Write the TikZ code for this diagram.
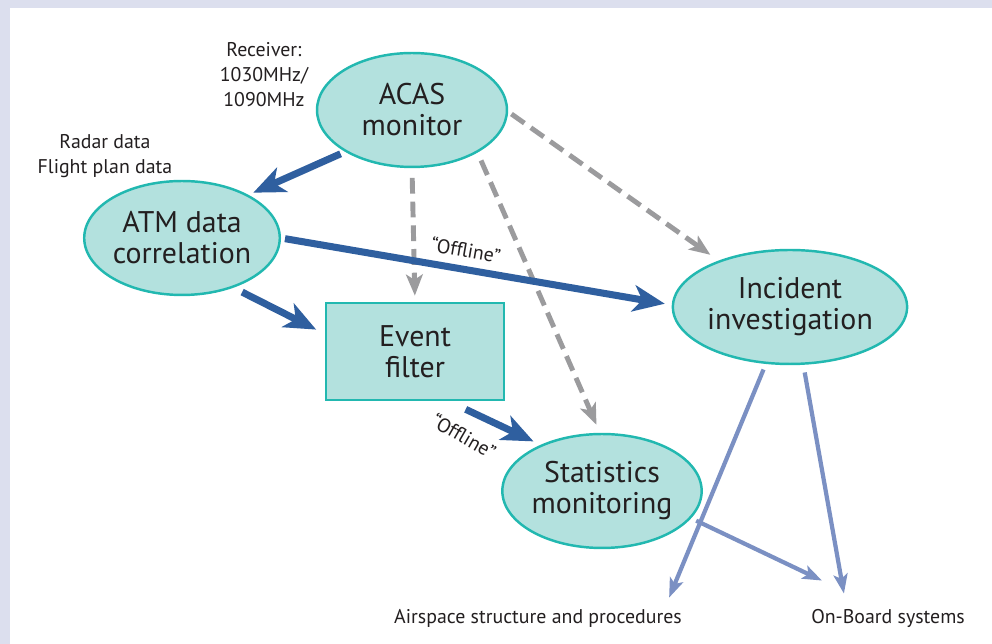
\documentclass[tikz,border=0pt]{standalone}
\usepackage{fontspec}
\setmainfont{PT Sans}
\usepackage{xcolor}
\usetikzlibrary{positioning,shapes.geometric,arrows.meta}
\definecolor{bandgray}{HTML}{DCDFEE}
\definecolor{nodefill}{HTML}{B3E1DE}
\definecolor{nodeline}{HTML}{22B8B0}
\definecolor{darkblue}{HTML}{2F5F9F}
\definecolor{paleblue}{HTML}{7B90C3}
\definecolor{dashgray}{HTML}{9B9B9D}
\definecolor{textdark}{HTML}{231F20}

\begin{document}
\begin{tikzpicture}[x=0.02cm, y=-0.02cm,
		bignode/.style={ellipse, draw=nodeline, fill=nodefill, line width=1.4pt, minimum width=3.8cm, minimum height=2.28cm, inner sep=0pt, align=center, text=textdark, font=\fontsize{17}{17.6}\selectfont},
		filterbox/.style={rectangle, draw=nodeline, fill=nodefill, line width=1.4pt, minimum width=3.56cm, minimum height=1.94cm, inner sep=0pt, align=center, text=textdark, font=\fontsize{17}{17.6}\selectfont},
		smalltext/.style={align=center, inner sep=0pt, text=textdark, font=\fontsize{11.3}{14.2}\selectfont},
		mainflow/.style={draw=darkblue, line width=4pt, -{Stealth[length=18pt,width=15pt,inset=5pt]}},
		feedflow/.style={draw=dashgray, line width=2.8pt, dash pattern=on 9pt off 4.5pt, -{Stealth[length=12pt,width=9.5pt,inset=3pt]}},
		outflow/.style={draw=paleblue, line width=2.4pt, -{Stealth[length=11pt,width=8pt,inset=2.5pt]}}]
	\fill[bandgray] (0,0) rectangle (992,644);
	\fill[white] (10,8) rectangle (992,644);
	% boxes
	\node[bignode] (acas) at (412,110) {ACAS\\monitor};
	\node[bignode] (atm) at (182,238) {ATM data\\correlation};
	\node[filterbox] (filter) at (415,351.5) {Event\\filter};
	\node[bignode] (incident) at (790,307) {Incident\\investigation};
	\node[bignode] (stats) at (602,491) {Statistics\\monitoring};
	% inputs and outputs
	\node[smalltext] (receiver) at (264,75) {Receiver:\\1030MHz/\\1090MHz};
	\node[smalltext] (radar) at (105,156) {Radar data\\Flight plan data};
	\node[smalltext] (airspace) at (538,618) {Airspace structure and procedures};
	\node[smalltext] (onboard) at (888,618) {On-Board systems};
	% dashed links
	\draw[feedflow, shorten <=5.5pt, shorten >=3.5pt] (acas.south) -- (filter.north);
	\draw[feedflow, shorten <=4.9pt, shorten >=5pt] (acas.327) -- (stats.92);
	\draw[feedflow, shorten <=2.3pt, shorten >=5.7pt] (acas.359) -- (incident.147);
	% main links
	\draw[mainflow, shorten <=2.8pt, shorten >=3pt] (acas.212) -- (atm.33);
	\draw[mainflow, shorten <=5.5pt, shorten >=5.5pt] (atm.316) -- (filter.169);
	\draw[mainflow, shorten <=2.3pt, shorten >=4pt] (atm.east) -- (incident.179);
	\draw[mainflow, shorten <=10.8pt, shorten >=4.5pt] (filter.304) -- (stats.143);
	\node[smalltext, rotate=-10] (offlinea) at (466,250) {“Offline”};
	\node[smalltext, rotate=-30] (offlineb) at (464,436) {“Offline”};
	% results
	\draw[outflow, shorten <=3.4pt] (incident.247) -- ([shift={(-13,-11)}]airspace.north east);
	\draw[outflow, shorten <=4.4pt] (incident.283) -- ([shift={(33,-15)}]onboard.north west);
	\draw[outflow, shorten <=3.2pt] (stats.343) -- ([shift={(11,-28)}]onboard.north west);
\end{tikzpicture}
\end{document}
